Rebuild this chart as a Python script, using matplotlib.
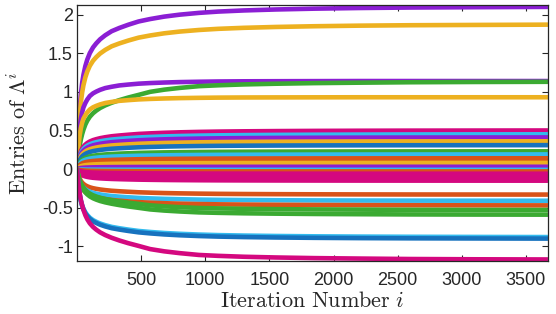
import numpy as np
import matplotlib
matplotlib.use("Agg")
import matplotlib.pyplot as plt

plt.rcParams['font.family'] = ['Liberation Sans', 'DejaVu Sans']
plt.rcParams['mathtext.fontset'] = 'cm'
plt.rcParams['axes.unicode_minus'] = False

iters = [1, 5, 10, 20, 30, 40, 50, 65, 80, 100, 125, 150, 180, 220, 270, 330, 400, 480,
         570, 680, 800, 950, 1100, 1300, 1550, 1850, 2200, 2600, 3100, 3672]
profile_fast = [0, 0.16, 0.29, 0.46, 0.57, 0.645, 0.70, 0.75, 0.79, 0.83, 0.86, 0.88, 0.90, 0.92,
                0.935, 0.95, 0.96, 0.97, 0.977, 0.983, 0.988, 0.992, 0.995, 0.997, 0.998, 0.999,
                1.0, 1.0, 1.0, 1.0]
profile_medium = [0, 0.12, 0.22, 0.36, 0.46, 0.53, 0.58, 0.635, 0.675, 0.715, 0.75, 0.775, 0.80,
                  0.825, 0.85, 0.87, 0.89, 0.91, 0.925, 0.94, 0.952, 0.963, 0.971, 0.978, 0.984,
                  0.989, 0.993, 0.996, 0.998, 1.0]
profile_slow = [0, 0.08, 0.15, 0.26, 0.34, 0.40, 0.45, 0.51, 0.555, 0.60, 0.64, 0.67, 0.70, 0.73,
                0.76, 0.79, 0.82, 0.85, 0.885, 0.91, 0.93, 0.95, 0.96, 0.97, 0.978, 0.985, 0.99,
                0.995, 0.998, 1.0]

# Final values of the entries of Lambda^i
final_values = [2.10, 1.87, 1.14, 1.13, 0.93,
                0.50, 0.45, 0.41, 0.36, 0.31, 0.23, 0.19, 0.14, 0.11, 0.08, 0.03,
                -0.01, -0.03, -0.06, -0.09, -0.12, -0.15,
                -0.33, -0.41, -0.47, -0.53, -0.59, -0.88, -0.90, -1.17]
line_colors = ['purple', 'yellow', 'purple', 'green', 'yellow',
               'magenta', 'cyan', 'purple', 'yellow', 'blue', 'green', 'cyan', 'orange', 'orange', 'yellow', 'purple',
               'cyan', 'orange', 'magenta', 'magenta', 'magenta', 'magenta',
               'orange', 'cyan', 'orange', 'green', 'green', 'cyan', 'blue', 'magenta']
line_profiles = ['medium', 'medium', 'fast', 'slow', 'fast',
                 'medium', 'medium', 'medium', 'medium', 'medium', 'medium', 'medium', 'medium', 'medium', 'medium', 'medium',
                 'medium', 'medium', 'medium', 'medium', 'medium', 'medium',
                 'medium', 'medium', 'medium', 'slow', 'slow', 'medium', 'medium', 'slow']

palette = {'blue': '#1772BE', 'orange': '#D95319', 'yellow': '#EDB120',
           'purple': '#8B1ED4', 'green': '#3BAA32', 'cyan': '#33BBEE', 'magenta': '#D4087F'}
profiles = {'fast': profile_fast, 'medium': profile_medium, 'slow': profile_slow}

fig = plt.figure(figsize=(5.56, 3.14), dpi=100)
ax = fig.add_axes([0.1385, 0.170, 0.847, 0.813])

x = np.array(iters)
for v, c, p in zip(final_values, line_colors, line_profiles):
    ax.plot(x, v * np.array(profiles[p]), color=palette[c], lw=3.3,
            solid_capstyle='butt', solid_joinstyle='round')

ax.set_xlim(0, 3672)
ax.set_ylim(-1.185, 2.12)
ax.set_xticks([500, 1000, 1500, 2000, 2500, 3000, 3500])
ax.set_yticks([-1, -0.5, 0, 0.5, 1, 1.5, 2])
ax.set_yticklabels(['-1', '-0.5', '0', '0.5', '1', '1.5', '2'])
ax.tick_params(direction='in', top=True, right=True, length=4, width=0.8,
               labelsize=13, colors='#262626')
ax.tick_params(axis='y', pad=3)
ax.tick_params(axis='x', pad=8.5)
for s in ax.spines.values():
    s.set_color('#262626')
    s.set_linewidth(0.9)

ax.set_xlabel(r'$\mathrm{Iteration\ Number\ }i$', fontsize=16, color='#262626', labelpad=1)
ax.set_ylabel(r'$\mathrm{Entries\ of\ }\Lambda^i$', fontsize=16, color='#262626', labelpad=8)

fig.savefig('out.png', dpi=100)
